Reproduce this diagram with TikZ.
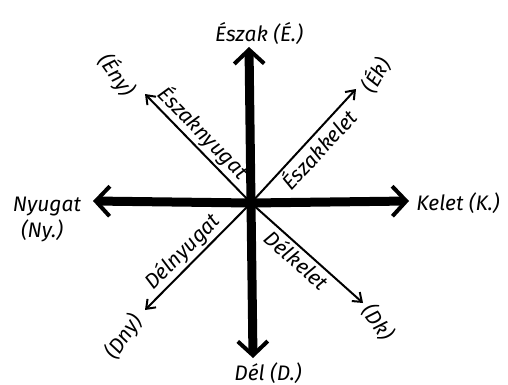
\documentclass[tikz,border=0pt]{standalone}
\usepackage{fontspec}
\setmainfont{Fira Sans}
\usetikzlibrary{arrows.meta}

\begin{document}
\begin{tikzpicture}[x=0.5pt,y=-0.5pt,
    main/.style={line width=4.5pt,-{Straight Barb[length=7pt,width=15pt,line width=2pt]}},
    side/.style={line width=1pt,-{Straight Barb[length=4pt,width=6pt,line width=1pt]}},
    lbl/.style={font=\itshape\fontsize{10.5}{12}\selectfont,inner sep=1pt}]

\useasboundingbox (0,0) rectangle (508,385);

\coordinate (O) at (251,203);
\coordinate (N) at (249,47);
\coordinate (S) at (253,358);
\coordinate (E) at (409,201);
\coordinate (W) at (93,201);
\coordinate (NE) at (356,89);
\coordinate (NW) at (145,94);
\coordinate (SW) at (145,310);
\coordinate (SE) at (363,303);

\draw[side] (O) -- node[lbl,sloped,above,pos=0.55] {Északnyugat} (NW);
\draw[side] (O) -- node[lbl,sloped,below,pos=0.55] {Északkelet} (NE);
\draw[side] (O) -- node[lbl,sloped,above,pos=0.55] {Délnyugat} (SW);
\draw[side] (O) -- node[lbl,sloped,below,pos=0.48] {Délkelet} (SE);

\draw[main] (O) -- (N);
\draw[main] (O) -- (S);
\draw[main] (O) -- (E);
\draw[main] (O) -- (W);

\node[lbl] (north) at (259,34) {Észak (É.)};
\node[lbl] (south) at (268,373) {Dél (D.)};
\node[lbl] (east) at (458,203) {Kelet (K.)};
\node[lbl] (west) at (47,207) {Nyugat};
\node[lbl] (westab) at (42,231) {(Ny.)};
\node[lbl,rotate=-55] (nw) at (117,75) {(Ény)};
\node[lbl,rotate=60] (ne) at (376,75) {(Ék)};
\node[lbl,rotate=55] (sw) at (124,337) {(Dny)};
\node[lbl,rotate=-55] (se) at (378,322) {(Dk)};
\end{tikzpicture}
\end{document}
